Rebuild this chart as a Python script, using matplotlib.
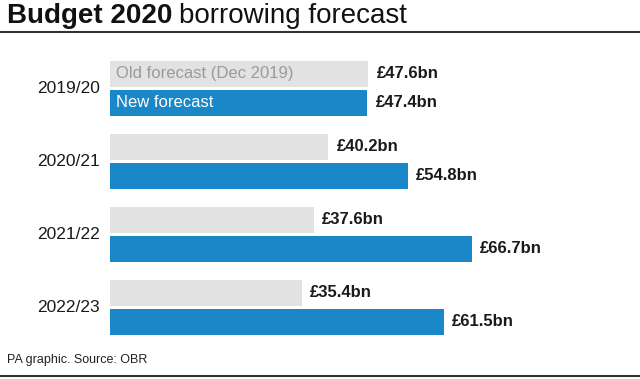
import matplotlib.pyplot as plt

years = ['2019/20', '2020/21', '2021/22', '2022/23']
old_forecast = [47.6, 40.2, 37.6, 35.4]
new_forecast = [47.4, 54.8, 66.7, 61.5]

blue = '#1a87c9'
grey = '#e2e2e2'

plt.rcParams['font.family'] = ['Liberation Sans', 'DejaVu Sans']

fig = plt.figure(figsize=(6.4, 3.79), dpi=100)
W, H = 640, 379

# axes spans the bar area, pixel-based placement
ax = fig.add_axes([110 / W, 1 - 338 / H, 530 / W, 280 / H])
ax.set_xlim(0, 530 / 5.43)
ax.set_ylim(3.42, -0.415)
ax.axis('off')

off = 0.2
bh = 0.356
for i, (yr, o, n) in enumerate(zip(years, old_forecast, new_forecast)):
    ax.barh(i - off, o, height=bh, color=grey)
    ax.barh(i + off, n, height=bh, color=blue)
    ax.text(o + 1.5, i - off, f'£{o}bn', va='center', ha='left',
            fontsize=12, fontweight='bold', color='#1a1a1a')
    ax.text(n + 1.5, i + off, f'£{n}bn', va='center', ha='left',
            fontsize=12, fontweight='bold', color='#1a1a1a')
    ax.text(-1.8, i, yr, va='center', ha='right', fontsize=12.5, color='#1a1a1a')

ax.text(1.1, -off, 'Old forecast (Dec 2019)', va='center', ha='left',
        fontsize=12, color='#9a9a9a')
ax.text(1.1, off, 'New forecast', va='center', ha='left',
        fontsize=12, color='white')

# title: bold part then regular part right after it
t1 = fig.text(7 / W, 1 - 16 / H, 'Budget 2020', fontsize=20, fontweight='bold',
              va='center', ha='left', color='#111111')
fig.canvas.draw()
bb = t1.get_window_extent()
fig.text((bb.x1 + 7) / W, 1 - 16 / H, 'borrowing forecast', fontsize=20,
         va='center', ha='left', color='#111111')
fig.add_artist(plt.Line2D([0, 1], [1 - 32 / H, 1 - 32 / H], color='#333333', lw=1.5))

# footer
fig.text(7 / W, 1 - 360 / H, 'PA graphic. Source: OBR', fontsize=9,
         va='center', ha='left', color='#222222')
fig.add_artist(plt.Line2D([0, 1], [1 - 376 / H, 1 - 376 / H], color='#333333', lw=1.5))

fig.savefig('out.png', dpi=100)
